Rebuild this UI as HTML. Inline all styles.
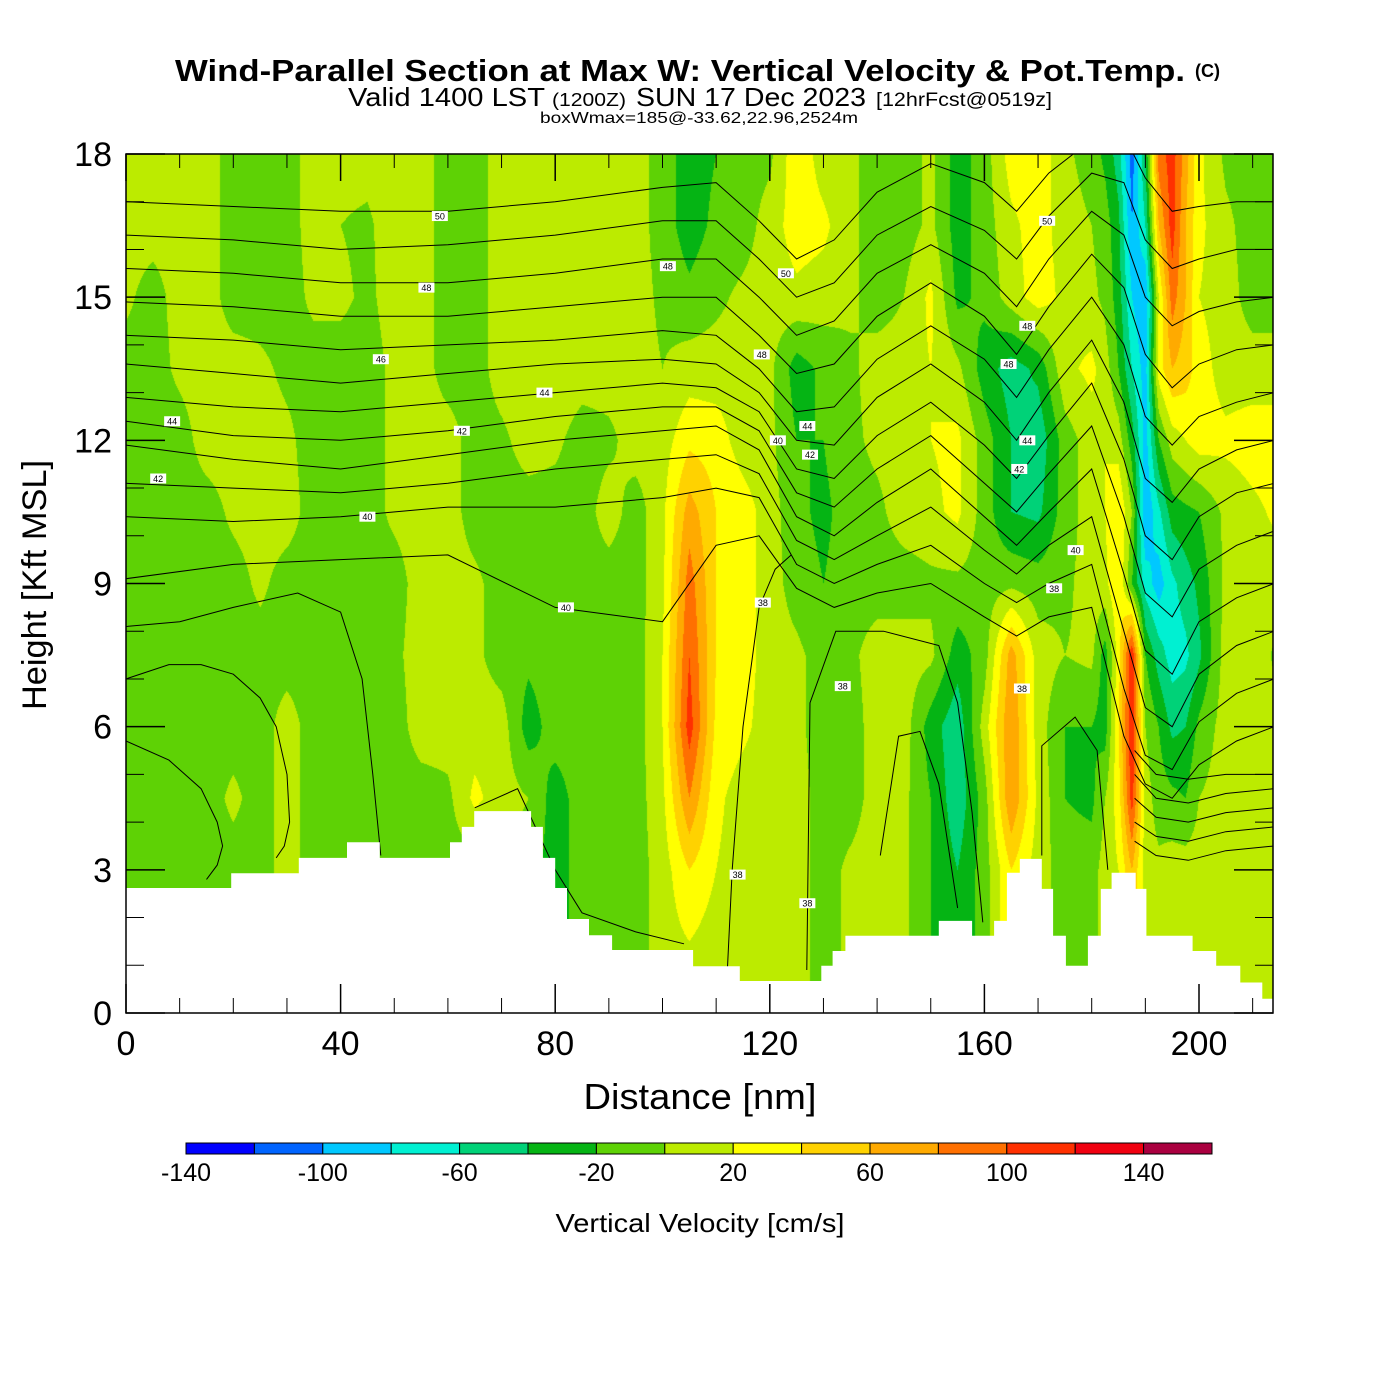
<!DOCTYPE html>
<html><head><meta charset="utf-8"><title>Wind-Parallel Section</title>
<style>
html,body{margin:0;padding:0;background:#fff;}
#wrap{position:relative;width:1400px;height:1400px;overflow:hidden;background:#fff;font-family:"Liberation Sans",sans-serif;}
#field{position:absolute;left:126px;top:154px;}
#ov{position:absolute;left:0;top:0;}
</style></head>
<body>
<div id="wrap">
<canvas id="field" width="1147" height="859"></canvas>
<svg id="ov" width="1400" height="1400" xmlns="http://www.w3.org/2000/svg">
  <g id="contours"></g>
  <g id="terrain"></g>
  <g id="clabels"></g>
  <rect x="126" y="154" width="1147" height="859" fill="none" stroke="#000" stroke-width="1.5"/>
  <g id="ticks"></g>
  <g id="ylabels" font-size="34" text-anchor="end" fill="#000"></g>
  <g id="xlabels" font-size="34" text-anchor="middle" fill="#000"></g>
  <text x="175" y="81" font-size="31" font-weight="bold" textLength="1010" lengthAdjust="spacingAndGlyphs">Wind-Parallel Section at Max W: Vertical Velocity &amp; Pot.Temp.</text>
  <text x="1195" y="77" font-size="18" font-weight="bold">(C)</text>
  <g>
    <text x="348" y="106" font-size="26" textLength="197" lengthAdjust="spacingAndGlyphs">Valid 1400 LST</text>
    <text x="552" y="106" font-size="18" textLength="74" lengthAdjust="spacingAndGlyphs">(1200Z)</text>
    <text x="636" y="106" font-size="26" textLength="230" lengthAdjust="spacingAndGlyphs">SUN 17 Dec 2023</text>
    <text x="876" y="106" font-size="19" textLength="176" lengthAdjust="spacingAndGlyphs">[12hrFcst@0519z]</text>
  </g>
  <text x="540" y="123" font-size="16" textLength="318" lengthAdjust="spacingAndGlyphs">boxWmax=185@-33.62,22.96,2524m</text>
  <text x="700" y="1109" font-size="36" text-anchor="middle" textLength="233" lengthAdjust="spacingAndGlyphs">Distance [nm]</text>
  <text transform="translate(46,585) rotate(-90)" font-size="34" text-anchor="middle" textLength="250" lengthAdjust="spacingAndGlyphs">Height [Kft MSL]</text>
  <g id="cbar"></g>
  <g id="cbarlabels" font-size="25" text-anchor="middle"></g>
  <text x="700" y="1232" font-size="26" text-anchor="middle" textLength="289" lengthAdjust="spacingAndGlyphs">Vertical Velocity [cm/s]</text>
</svg>
</div>
<script>
// ===== DATA =====
const xNodes = [0,5,10,15,20,25,30,35,40,45,50,55,60,65,70,75,80,85,90,95,100,105,110,115,120,125,130,135,140,145,150,155,160,165,170,175,180,182.5,185,187.5,190,192.5,195,197.5,200,205,210,215];
const heights = [0,1.5,3,4.5,6,7.5,9,10.5,12,13.5,15,16.5,18];
const w00  = [-10,-10,-10,-10,-10,-10,10,-10,-10,-10,-10,-10,-10,-10,-10,-10,-30,-10,-10,-10, 10,20,10,10,10,10,-10,5,10,5,-20,-40,-10,40,10,-10, -10,10,20,60,10,5,10,10,10, 10,10,10];
const w015 = [-10,-10,-10,-10,-10,-10,10,-10,-10,-10,-10,-10,-10,-10,-10,-10,-30,-10,-10,-10, 10,20,10,10,10,10,-10,5,10,5,-20,-40,-10,40,10,-10, -10,10,20,60,10,5,10,10,10, 10,10,10];
const w030 = [-10,-10,-10,-10,-10,-10,10,-10,-10,-10,-10,-10,-10,-10,-10,-10,-30,-10,-10,-10, 10,40,20,10,10,10,-10,5,10,5,-20,-40,-10,40,10,-10, -10,10,20,60,10,5,10,10,10, 10,10,10];
const w045 = [-10,-10,-10,-10,5,-10,10,-10,-10,-10,-10,-10,-5,25,10,0,-30,-10,-10,-10, 15,80,25,10,10,10,-10,-10,10,5,-20,-55,-10,80,15,-20, -25,0,30,110,10,-10,-15,-20,0, 10,15,10];
const w060 = [-10,-10,-10,-10,-10,-10,10,-10,-10,-10,-10,10,10,10,10,-30,-10,-10,-10,-10, 20,110,35,25,10,5,-10,-10,10,10,-30,-55,10,80,10,-20, -20,-30,40,120,0,-20,-45,-40,-15, 10,10,5];
const w075 = [-10,-10,-10,-10,-10,-10,-10,-10,-10,-10,-5,10,10,5,-10,-15,-10,0,-10,-10, 20,100,40,30,10,5,-10,-5,10,10,5,-30,-10,70,10,0, 5,-30,30,120,-20,-50,-70,-65,-45, 10,10,-5];
const w090 = [-10,-10,-10,-10,-10,5,-10,-10,-10,-10,-10,10,10,5,-10,-10,-5,-10,-10,-10, 15,90,40,30,10,-10,-20,-10,-10,-10,-5,-5,-10,-5,-10,-5, 10,15,40,-20,-70,-90,-65,-50,-35, 5,10,10];
const w105 = [-10,-10,-10,-10,5,10,10,-10,-10,-10,5,10,10,-10,-10,-10,-10,-10,10,-10, 15,70,40,30,10,-15,-25,-10,-5,10,15,25,-10,-40,-45,-10, 10,20,40,0,-100,-65,-30,-25,-20, 5,15,25];
const w120 = [-10,-10,-10,10,10,10,5,-10,-10,-10,5,10,10,-10,-5,10,5,-10,-5,10, 10,35,30,10,5,-20,-20,-5,5,10,20,25,-10,-40,-55,-10, 10,20,10,-30,-90,-20,10,20,30, 25,30,30];
const w135 = [-10,-10,5,10,10,5,-5,-10,-10,-10,5,10,-10,-10,10,15,15,10,10,10, 0,10,10,10,5,-30,-15,-5,10,10,20,5,-30,-50,-35,15, 25,10,-20,-60,-90,30,60,50,30, 10,10,10];
const w150 = [5,-10,10,10,-10,-10,-10,5,5,-5,10,10,-10,-10,10,10,20,10,10,10, -5,-15,-5,5,10,15,10,5,-10,0,25,-25,-15,10,30,15, 5,-5,-30,-80,-100,20,90,60,20, 10,-10,-10];
const w165 = [10,10,10,10,-10,-10,-10,10,0,-5,15,10,-10,-10,10,15,20,10,10,10, -10,-30,-15,-10,10,30,25,5,-10,-10,5,-30,-10,15,30,10, 0,-10,-35,-100,-60,60,110,60,25, 5,-10,-10];
const w180 = [10,10,10,10,-10,-10,-10,10,10,10,15,10,-10,-10,10,15,20,10,10,10, -10,-30,-20,-10,-5,35,10,5,-10,-10,5,-30,-10,30,35,5, -10,-25,-50,-110,-40,90,110,70,25, -5,-10,-10];
const wRows = [w00,w015,w030,w045,w060,w075,w090,w105,w120,w135,w150,w165,w180];
const binEdges = [-140,-120,-100,-80,-60,-40,-20,0,20,40,60,80,100,120,140,160];
const binColors = ['#0000ff','#0064ff','#00c8ff','#00f0d2','#00d278','#05b414','#5ed205','#bceb00','#ffff00','#ffd200','#ffaa00','#ff7000','#ff3000','#f00010','#aa0040'];
const cbarTicks = [-140,-100,-60,-20,20,60,100,140];
const yTicks = [0,3,6,9,12,15,18];
const xTicks = [0,40,80,120,160,200];
const terrainX = [0,19.6,32.2,41.2,47.3,60.4,62.6,64.9,75.5,77.7,80,82.2,86.3,90.6,105.7,114.4,129.6,131.7,134.1,151.5,157.7,161.8,164.2,166.6,170.7,172.8,175.2,179.3,181.7,183.7,188.2,190.2,198.8,203.2,207.7,211.8];
const terrainH = [2.62,2.93,3.25,3.58,3.25,3.58,3.9,4.23,3.9,3.25,2.62,1.97,1.63,1.32,0.98,0.67,0.99,1.3,1.62,1.93,1.62,1.93,2.94,3.23,2.6,1.62,0.99,1.62,2.6,2.94,2.6,1.62,1.3,0.99,0.64,0.3];
// theta contours (upper family) sampled at these distances
const thetaX = [0,20,40,60,80,100,110,118,125,132,140,150,160,166,172,180,186,190,195,200,207,214];
const theta1  = [17.0,16.9,16.8,16.8,17.0,17.3,17.4,16.6,15.8,16.2,17.2,17.8,17.4,16.8,17.6,18.3,18.4,17.5,16.8,16.9,17.0,17.0];
const theta2  = [16.3,16.2,16.0,16.1,16.3,16.6,16.6,15.8,15.0,15.3,16.3,16.9,16.4,15.8,16.7,17.6,17.4,16.2,15.6,15.8,16.0,16.0];
const theta3  = [15.6,15.5,15.3,15.3,15.5,15.8,15.8,15.0,14.2,14.5,15.5,16.1,15.5,14.8,15.8,16.8,16.3,15.0,14.4,14.7,14.9,15.0];
const theta4  = [14.9,14.8,14.6,14.6,14.8,15.0,15.0,14.2,13.4,13.6,14.6,15.3,14.6,13.8,14.8,15.9,15.2,13.8,13.1,13.6,13.9,14.0];
const theta5  = [14.2,14.1,13.9,14.0,14.1,14.3,14.2,13.5,12.6,12.7,13.7,14.4,13.7,12.9,13.9,15.0,14.0,12.5,11.9,12.5,12.8,13.0];
const theta6  = [13.6,13.4,13.2,13.4,13.6,13.7,13.6,13.0,12.0,11.9,12.9,13.6,12.8,12.0,13.0,14.1,12.8,11.2,10.7,11.4,11.8,12.0];
const theta7  = [12.9,12.7,12.6,12.8,13.0,13.2,13.1,12.6,11.4,11.2,12.1,12.8,11.9,11.2,12.1,13.2,11.6,10.0,9.5,10.4,10.9,11.1];
const theta8  = [12.4,12.1,12.0,12.2,12.5,12.7,12.7,12.2,10.9,10.6,11.4,12.1,11.1,10.5,11.3,12.3,10.4,8.8,8.3,9.3,9.8,10.1];
const theta9  = [11.9,11.6,11.4,11.7,12.0,12.2,12.3,11.8,10.4,10.0,10.7,11.4,10.4,9.8,10.5,11.4,9.2,7.6,7.1,8.2,8.7,9.0];
const theta10 = [11.1,11.0,10.9,11.1,11.4,11.6,11.7,11.3,9.9,9.5,10.0,10.6,9.7,9.2,9.8,10.4,8.0,6.4,6.0,7.1,7.7,8.0];
const theta11 = [10.4,10.3,10.4,10.6,10.6,10.8,11.0,10.8,9.4,9.0,9.4,9.8,9.0,8.6,9.0,9.4,6.8,5.4,5.1,6.1,6.7,7.0];
const theta12 = [9.1,9.4,9.5,9.6,8.5,8.2,9.8,10.0,8.9,8.5,8.8,9.0,8.3,7.9,8.3,8.5,5.8,4.8,4.5,5.2,5.7,6.0];
const upperLines = [theta1,theta2,theta3,theta4,theta5,theta6,theta7,theta8,theta9,theta10,theta11,theta12];
// lower theta contours as (distance, height) polylines
const domeAX = [0,10,20,32,40,44,46,47.5];           const domeAY = [8.1,8.2,8.5,8.8,8.4,7.0,5.0,3.3];
const domeBX = [0,8,14,20,25,28,30,30.5,29.5,28];    const domeBY = [7.0,7.3,7.3,7.1,6.6,6.0,5.0,4.0,3.5,3.25];
const domeCX = [0,8,14,17,18,17,15];                 const domeCY = [5.7,5.3,4.7,4.0,3.5,3.1,2.8];
const domeDX = [126.9,127.5,132.3,141.2,151.5,155,157.7,159.7]; const domeDY = [0.9,6.5,8.0,8.0,7.7,6.5,4.2,1.9];
const domeEX = [140.6,144,148,151.5,155];            const domeEY = [3.3,5.8,5.9,4.8,2.2];
const domeFX = [170.7,170.7,176.9,181,183];          const domeFY = [3.3,5.6,6.2,5.5,3.0];
const domeGX = [65,73,80,85,95,104];                 const domeGY = [4.3,4.7,3.0,2.1,1.7,1.45];
const domeHX = [112,113,115,118,121,124];            const domeHY = [0.7,3.0,6.0,8.5,9.3,9.6];
const fanX = [188,192,198,205,214];
const fan1 = [5.5,5.0,4.9,5.0,5.0];
const fan2 = [5.0,4.5,4.4,4.6,4.7];
const fan3 = [4.5,4.1,4.0,4.2,4.3];
const fan4 = [4.0,3.7,3.6,3.8,3.9];
const fan5 = [3.6,3.3,3.2,3.4,3.5];
const contourLabels = [["50",58.5,16.7],["50",123,15.5],["50",171.7,16.6],["48",56,15.2],["48",101,15.65],["48",118.5,13.8],["48",168,14.4],["48",164.5,13.6],["46",47.5,13.7],["44",8.6,12.4],["44",78,13.0],["44",127,12.3],["44",168,12.0],["42",6,11.2],["42",62.6,12.2],["42",127.5,11.7],["42",166.5,11.4],["40",45,10.4],["40",82,8.5],["40",121.5,12.0],["40",177,9.7],["38",118.7,8.6],["38",133.6,6.85],["38",114,2.9],["38",127,2.3],["38",167,6.8],["38",173,8.9]];

// ===== AXES =====
const PL=126, PT=154, PW=1147, PH=859, NM_PX=5.365, KFT_MAX=18;
function xs(nm){ return PL + nm*NM_PX; }
function ys(k){ return PT + PH*(1 - k/KFT_MAX); }
const NS='http://www.w3.org/2000/svg';
function mk(tag, attrs, parent){ const e=document.createElementNS(NS,tag); for(const k in attrs) e.setAttribute(k,attrs[k]); parent.appendChild(e); return e; }

// ===== FIELD =====
(function(){
  const cv=document.getElementById('field'); const ctx=cv.getContext('2d');
  const img=ctx.createImageData(PW,PH); const d=img.data;
  const rgb=binColors.map(c=>[parseInt(c.substr(1,2),16),parseInt(c.substr(3,2),16),parseInt(c.substr(5,2),16)]);
  const colI=new Int32Array(PW), colF=new Float32Array(PW);
  for(let px=0;px<PW;px++){
    const nm=(px+0.5)/NM_PX; let i=0;
    while(i<xNodes.length-2 && nm>xNodes[i+1]) i++;
    colI[px]=i; colF[px]=Math.min(1,Math.max(0,(nm-xNodes[i])/(xNodes[i+1]-xNodes[i])));
  }
  const dh=heights[1]-heights[0];
  for(let py=0;py<PH;py++){
    const k=KFT_MAX*(1-(py+0.5)/PH);
    let j=Math.min(heights.length-2,Math.floor(k/dh)); const fy=(k-heights[j])/dh;
    const r0=wRows[j], r1=wRows[j+1];
    for(let px=0;px<PW;px++){
      const i=colI[px], fx=colF[px];
      const v0=r0[i]*(1-fx)+r0[i+1]*fx, v1=r1[i]*(1-fx)+r1[i+1]*fx;
      const v=v0*(1-fy)+v1*fy;
      let b=Math.floor((v-binEdges[0])/20); if(b<0)b=0; if(b>binColors.length-1)b=binColors.length-1;
      const o=(py*PW+px)*4, c=rgb[b];
      d[o]=c[0]; d[o+1]=c[1]; d[o+2]=c[2]; d[o+3]=255;
    }
  }
  ctx.putImageData(img,0,0);
})();

// ===== CONTOURS =====
(function(){
  const g=document.getElementById('contours');
  function line(xa,ya,name){
    const pts=xa.map((x,i)=>xs(x).toFixed(1)+','+ys(ya[i]).toFixed(1)).join(' ');
    const p=mk('polyline',{points:pts,fill:'none',stroke:'#000','stroke-width':'1'},g);
    
    
  }
  upperLines.forEach((arr,i)=>line(thetaX,arr,'theta-line-'+(i+1)));
  line(domeAX,domeAY,'theta-dome-a'); line(domeBX,domeBY,'theta-dome-b'); line(domeCX,domeCY,'theta-dome-c');
  line(domeDX,domeDY,'theta-dome-d'); line(domeEX,domeEY,'theta-dome-e'); line(domeFX,domeFY,'theta-dome-f');
  line(domeGX,domeGY,'theta-dome-g'); line(domeHX,domeHY,'theta-dome-h');
  [fan1,fan2,fan3,fan4,fan5].forEach((arr,i)=>line(fanX,arr,'theta-fan-'+(i+1)));
  const cp=mk('clipPath',{id:'pclip'},g); mk('rect',{x:PL,y:PT,width:PW,height:PH},cp);
  g.setAttribute('clip-path','url(#pclip)');
})();

// ===== TERRAIN =====
(function(){
  const g=document.getElementById('terrain');
  let pts=[[xs(0),ys(0)]];
  for(let i=0;i<terrainX.length;i++){
    const x0=terrainX[i], x1=(i+1<terrainX.length)?terrainX[i+1]:213.8;
    pts.push([xs(x0),ys(terrainH[i])]); pts.push([xs(x1),ys(terrainH[i])]);
  }
  pts.push([xs(213.8),ys(0)]);
  const p=mk('polygon',{points:pts.map(p=>p[0].toFixed(1)+','+p[1].toFixed(1)).join(' '),fill:'#fff',stroke:'none'},g);
  
  
})();

// ===== CONTOUR LABELS =====
(function(){
  const g=document.getElementById('clabels');
  contourLabels.forEach(l=>{
    const x=xs(l[1]), y=ys(l[2]);
    const grp=mk('g',{},g);
    
    
    mk('rect',{x:x-8,y:y-5,width:16,height:10,fill:'#fff'},grp);
    const t=mk('text',{x:x,y:y+3.5,'font-size':'9','text-anchor':'middle',fill:'#000'},grp);
    t.textContent=l[0];
  });
})();

// ===== TICKS & LABELS =====
(function(){
  const g=document.getElementById('ticks');
  for(let k=0;k<=18;k++){
    const major=(k%3===0), L=major?39:18, y=ys(k);
    mk('line',{x1:PL,y1:y,x2:PL+L,y2:y,stroke:'#000','stroke-width':major?1.5:1},g);
    mk('line',{x1:PL+PW-L,y1:y,x2:PL+PW,y2:y,stroke:'#000','stroke-width':major?1.5:1},g);
  }
  for(let n=0;n<=210;n+=10){
    const major=(n%40===0), x=xs(n);
    mk('line',{x1:x,y1:PT+PH,x2:x,y2:PT+PH-(major?29:15),stroke:'#000','stroke-width':major?1.5:1},g);
    mk('line',{x1:x,y1:PT,x2:x,y2:PT+(major?27:14),stroke:'#000','stroke-width':major?1.5:1},g);
  }
  const yl=document.getElementById('ylabels');
  yTicks.forEach(k=>{ const t=mk('text',{x:112,y:ys(k)+12},yl); t.textContent=k;
    
     });
  const xl=document.getElementById('xlabels');
  xTicks.forEach(n=>{ const t=mk('text',{x:xs(n),y:1055},xl); t.textContent=n;
    
     });
})();

// ===== COLORBAR =====
(function(){
  const g=document.getElementById('cbar');
  const x0=186, bw=68.4, y0=1143, h=11;
  binColors.forEach((c,i)=>{
    const r=mk('rect',{x:x0+i*bw,y:y0,width:bw,height:h,fill:c,stroke:'#000','stroke-width':'1'},g);
    
    
  });
  const gl=document.getElementById('cbarlabels');
  cbarTicks.forEach(v=>{
    const t=mk('text',{x:x0+(v-binEdges[0])/20*bw,y:1181},gl); t.textContent=v;
    
    
  });
})();
</script>
</body></html>
